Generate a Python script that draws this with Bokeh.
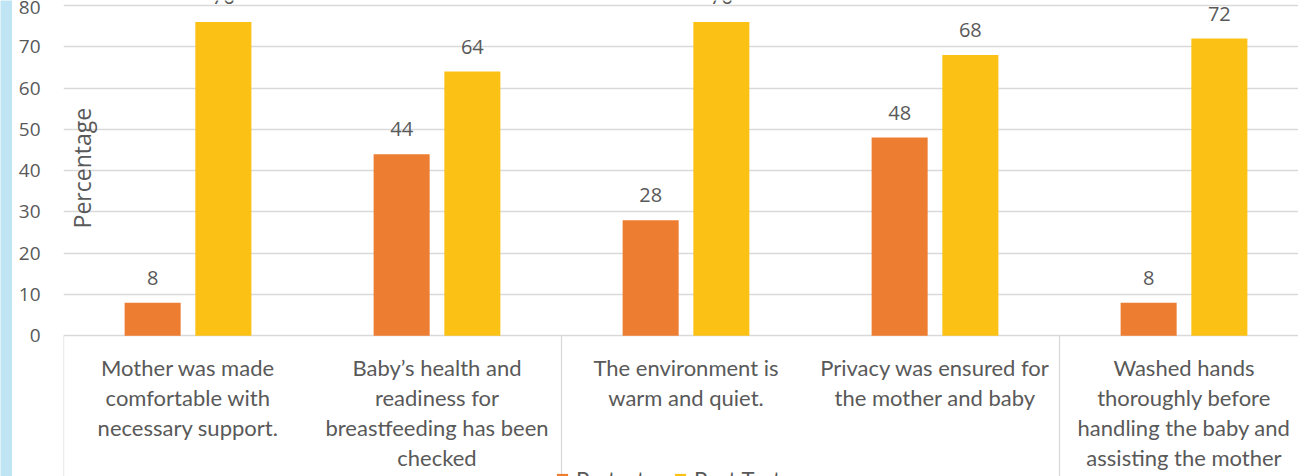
import numpy as np
from bokeh.plotting import figure
from bokeh.models import Range1d, FixedTicker, ColumnDataSource, Label, Legend, LegendItem
from bokeh.layouts import row
from bokeh.embed import file_html
from bokeh.resources import INLINE
from bokeh.core.properties import value

# ---------------- data ----------------
categories = [
    "Mother was made\ncomfortable with\nnecessary support.",
    "Baby\u2019s health and\nreadiness for\nbreastfeeding has been\nchecked",
    "The environment is\nwarm and quiet.",
    "Privacy was ensured for\nthe mother and baby",
    "Washed hands\nthoroughly before\nhandling the baby and\nassisting the mother",
]
pretest = [8, 44, 28, 48, 8]
posttest = [76, 64, 76, 68, 72]
series_names = ["Pretest", "Post Test"]
y_ticks = [0, 10, 20, 30, 40, 50, 60, 70, 80]
y_label = "Percentage"

# ---------------- styling / geometry ----------------
ORANGE = "#ED7D31"
GOLD = "#FBC114"
GRID = "#D9D9D9"
TEXT = "#595959"
BLUE = "#BFE4F4"

PX_PER_CAT = 249.0
FIG_W = 1286
FRAME_LEFT = 51
FRAME_W = FIG_W - FRAME_LEFT
x_end = FRAME_W / PX_PER_CAT
y_start, y_end = -34.08, 81.21

n = len(categories)
centers = np.arange(n) + 0.5
offset = 0.142
bar_w = 0.225

p = figure(width=FIG_W, height=476,
           x_range=Range1d(0, x_end), y_range=Range1d(y_start, y_end),
           output_backend="svg", toolbar_location=None,
           x_axis_location=None,
           min_border_left=FRAME_LEFT, min_border_right=0,
           min_border_top=0, min_border_bottom=0)
p.outline_line_color = None
p.background_fill_color = "white"
p.border_fill_color = "white"

p.xgrid.visible = False
p.ygrid.ticker = FixedTicker(ticks=y_ticks)
p.ygrid.grid_line_color = GRID
p.ygrid.grid_line_width = 1.3

yax = p.yaxis[0]
yax.ticker = FixedTicker(ticks=y_ticks)
yax.axis_line_color = None
yax.major_tick_line_color = None
yax.minor_tick_line_color = None
yax.major_tick_out = 0
yax.major_tick_in = 0
yax.major_label_standoff = 23
yax.major_label_text_font = "Open Sans"
yax.major_label_text_font_size = "19px"
yax.major_label_text_color = TEXT

src = ColumnDataSource(dict(
    xp=centers - offset, xq=centers + offset,
    pre=pretest, post=posttest,
    pre_t=[str(v) for v in pretest], post_t=[str(v) for v in posttest],
    xc=centers, cat=categories,
))

r1 = p.vbar(x="xp", top="pre", bottom=0, width=bar_w, source=src,
            fill_color=ORANGE, line_color=None)
r2 = p.vbar(x="xq", top="post", bottom=0, width=bar_w, source=src,
            fill_color=GOLD, line_color=None)

for xcol, ycol, tcol in (("xp", "pre", "pre_t"), ("xq", "post", "post_t")):
    p.text(x=xcol, y=ycol, text=tcol, source=src, y_offset=-25,
           text_align="center", text_baseline="middle",
           text_font=value("Open Sans"), text_font_size="20px",
           text_color=TEXT)

# separators below the category axis (every second boundary)
sep_x = list(range(0, n + 1, 2))
p.segment(x0=sep_x, x1=sep_x, y0=[0] * len(sep_x), y1=[y_start] * len(sep_x),
          line_color=GRID, line_width=1.3)

# category labels
p.text(x="xc", y=-4.3, text="cat", source=src,
       text_align="center", text_baseline="top",
       text_font=value("Lato"), text_font_size="22px",
       text_line_height=1.12, text_color=TEXT)

p.add_layout(Label(x=18 / PX_PER_CAT, y=40.6, text=y_label, angle=np.pi / 2,
                   text_align="center", text_baseline="middle",
                   text_font="Open Sans", text_font_size="23px",
                   text_color=TEXT))

legend = Legend(items=[LegendItem(label=series_names[0], renderers=[r1]),
                       LegendItem(label=series_names[1], renderers=[r2])],
                location=(492, -16), orientation="horizontal",
                border_line_color=None, background_fill_alpha=0,
                padding=0, margin=0, spacing=28,
                glyph_width=14, glyph_height=14, label_standoff=7,
                label_text_font="Lato", label_text_font_size="22px",
                label_text_color=TEXT)
p.add_layout(legend)

strip = figure(width=12, height=476, output_backend="svg", toolbar_location=None,
               x_axis_location=None, y_axis_location=None,
               min_border_left=0, min_border_right=0, min_border_top=0,
               min_border_bottom=0)
strip.background_fill_color = BLUE
strip.border_fill_color = BLUE
strip.outline_line_color = None
for g in strip.grid:
    g.visible = False

layout = row(strip, p, spacing=0)

open("out.html", "w").write(file_html(layout, INLINE))
